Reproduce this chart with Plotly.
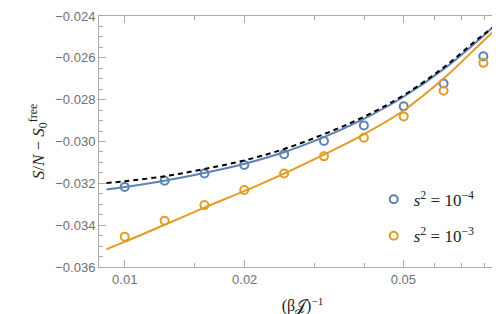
import plotly.graph_objects as go

# Data points (beta J)^-1
x_pts = [0.01, 0.01259, 0.01585, 0.01995, 0.02512, 0.03162, 0.03981, 0.05012, 0.0631, 0.0794]
y_s4 = [-0.03217, -0.03188, -0.03153, -0.03112, -0.03061, -0.02998, -0.02923, -0.02832, -0.02723, -0.02593]
y_s3 = [-0.03455, -0.03379, -0.03304, -0.03232, -0.03153, -0.03071, -0.02982, -0.02880, -0.02757, -0.02624]

# Curves
x_curve = [0.009, 0.01, 0.0126, 0.0158, 0.02, 0.0252, 0.0317, 0.0398, 0.0501, 0.0632, 0.0795, 0.0863]
y_curve_s4 = [-0.03230, -0.03218, -0.03188, -0.03151, -0.03106, -0.03050, -0.02978, -0.02892, -0.02786, -0.02653, -0.02494, -0.02431]
y_curve_s3 = [-0.03515, -0.03480, -0.03398, -0.03317, -0.03236, -0.03152, -0.03062, -0.02966, -0.02852, -0.02698, -0.02518, -0.02455]
x_dash = [0.009, 0.01, 0.0126, 0.0158, 0.02, 0.0252, 0.0317, 0.0398, 0.0501, 0.0632, 0.0795, 0.0898]
y_dash = [-0.03198, -0.03190, -0.03166, -0.03132, -0.03090, -0.03035, -0.02964, -0.02882, -0.02779, -0.02645, -0.02488, -0.02419]

x_ticks = [0.01, 0.02, 0.05]
x_ticktext = ["0.01", "0.02", "0.05"]
x_minor = [0.015, 0.03, 0.04, 0.06, 0.07, 0.08]
y_ticks = [-0.036, -0.034, -0.032, -0.030, -0.028, -0.026, -0.024]
y_ticktext = ["\u22120.036", "\u22120.034", "\u22120.032", "\u22120.030", "\u22120.028", "\u22120.026", "\u22120.024"]

BLUE = "#5E81B5"
ORANGE = "#E19C24"
GRAY = "#aaaaaa"
LABEL = "#707070"

fig = go.Figure()
fig.add_trace(go.Scatter(x=x_pts, y=y_s4, mode="markers", name="<i>s</i><sup>2</sup> = 10<sup>\u22124</sup>",
                         marker=dict(symbol="circle-open", size=8, color=BLUE, line=dict(width=2, color=BLUE)),
                         legend="legend"))
fig.add_trace(go.Scatter(x=x_pts, y=y_s3, mode="markers", name="<i>s</i><sup>2</sup> = 10<sup>\u22123</sup>",
                         marker=dict(symbol="circle-open", size=8, color=ORANGE, line=dict(width=2, color=ORANGE)),
                         legend="legend2"))
fig.add_trace(go.Scatter(x=x_curve, y=y_curve_s3, mode="lines", line=dict(color=ORANGE, width=2, shape="spline"),
                         showlegend=False))
fig.add_trace(go.Scatter(x=x_curve, y=y_curve_s4, mode="lines", line=dict(color=BLUE, width=2, shape="spline"),
                         showlegend=False))
fig.add_trace(go.Scatter(x=x_dash, y=y_dash, mode="lines", line=dict(color="black", width=2, dash="5px,4px", shape="spline"),
                         showlegend=False))

legend_common = dict(xanchor="left", yanchor="middle", bgcolor="rgba(0,0,0,0)",
                     font=dict(family="Liberation Serif, serif", size=17, color="#222222"))
fig.update_layout(
    width=500, height=314,
    margin=dict(l=91, r=2, t=8, b=55),
    paper_bgcolor="white", plot_bgcolor="white",
    legend=dict(x=0.675, y=0.268, **legend_common),
    legend2=dict(x=0.675, y=0.123, **legend_common),
    xaxis=dict(
        type="log", range=[-2.0645, -1.0434],
        tickmode="array", tickvals=x_ticks, ticktext=x_ticktext,
        ticks="inside", ticklen=7, tickwidth=1, tickcolor=GRAY,
        minor=dict(tickmode="array", tickvals=x_minor, ticks="inside", ticklen=4, tickcolor=GRAY),
        showline=True, linecolor=GRAY, linewidth=1, mirror="allticks",
        showgrid=False, zeroline=False,
        tickfont=dict(family="Liberation Sans, Arial, sans-serif", size=13, color=LABEL),
        title=dict(text="(\u03b2\U0001D4A5)<sup>\u22121</sup>", standoff=14,
                   font=dict(family="Liberation Serif, serif", size=16, color="#222222")),
    ),
    yaxis=dict(
        range=[-0.036, -0.024],
        tickmode="array", tickvals=y_ticks, ticktext=y_ticktext,
        ticks="inside", ticklen=7, tickwidth=1, tickcolor=GRAY,
        minor=dict(dtick=0.0005, tick0=-0.036, ticks="inside", ticklen=4, tickcolor=GRAY),
        showline=True, linecolor=GRAY, linewidth=1, mirror="allticks",
        showgrid=False, zeroline=False,
        tickfont=dict(family="Liberation Sans, Arial, sans-serif", size=13, color=LABEL),
        title=dict(text="<i>S</i>/<i>N</i> \u2212 <i>S</i><sub>0</sub><sup>free</sup>", standoff=6,
                   font=dict(family="Liberation Serif, serif", size=17, color="#222222")),
    ),
)

fig.write_html("out.html")
